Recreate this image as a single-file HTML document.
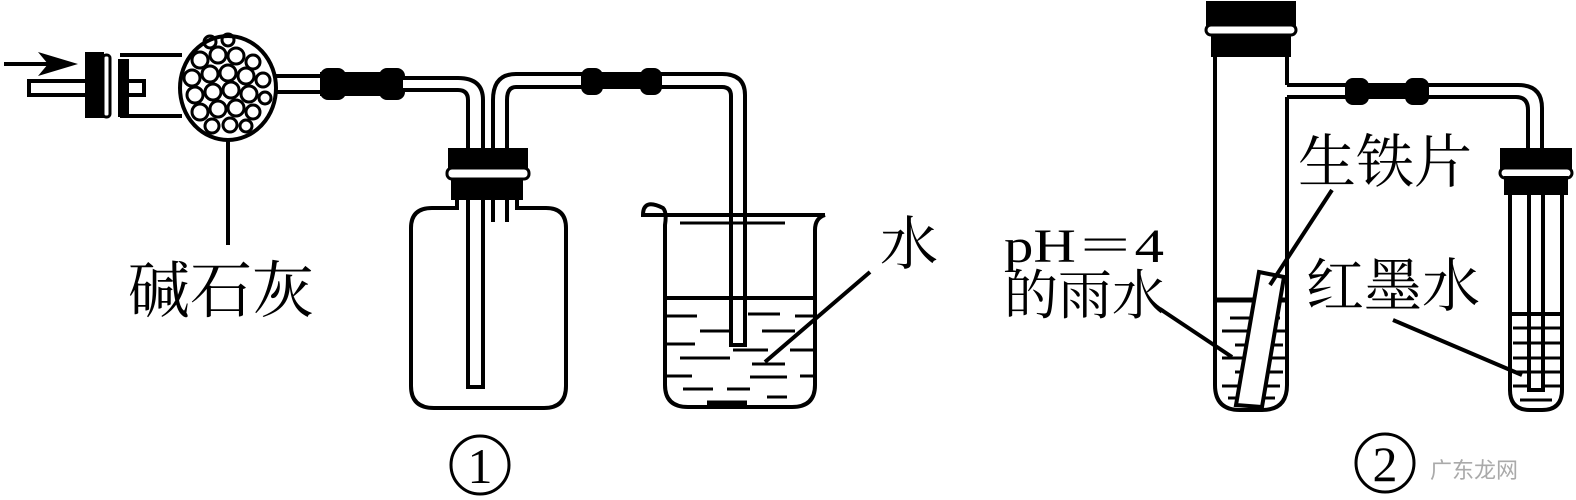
<!DOCTYPE html>
<html><head><meta charset="utf-8"><style>
html,body{margin:0;padding:0;background:#fff;}
svg{display:block}
text{font-family:"Liberation Serif","Noto Serif CJK SC",serif;fill:#000}
</style></head><body>
<svg width="1576" height="500" viewBox="0 0 1576 500" xmlns="http://www.w3.org/2000/svg">
<g stroke="#000" stroke-width="4" fill="none" stroke-linecap="butt">
<!-- arrow -->
<line x1="4" y1="64" x2="62" y2="64"/>
<polygon points="78,64 38,52 48,64 38,76" fill="#000" stroke="none"/>
<!-- stub tube -->
<rect x="29" y="81" width="58" height="14" fill="#fff"/>
<rect x="87" y="54" width="15" height="62" fill="#000"/>
<rect x="103" y="55" width="7" height="62" rx="3" fill="#fff" stroke-width="3"/>
<rect x="120" y="61" width="7" height="54" fill="#000"/>
<rect x="127" y="81" width="17" height="14" fill="#fff"/>
<!-- drying tube body -->
<path d="M120,55 L182,55 M120,116 L182,116"/>
<ellipse cx="228" cy="88" rx="48" ry="52" fill="#fff"/>
<g stroke-width="3">
<circle cx="200" cy="60" r="8"/><circle cx="218" cy="55" r="8"/><circle cx="236" cy="56" r="8"/><circle cx="253" cy="62" r="7"/>
<circle cx="192" cy="78" r="8"/><circle cx="210" cy="74" r="8"/><circle cx="228" cy="73" r="8"/><circle cx="246" cy="76" r="8"/><circle cx="263" cy="80" r="7"/>
<circle cx="195" cy="95" r="8"/><circle cx="213" cy="92" r="8"/><circle cx="231" cy="90" r="8"/><circle cx="249" cy="94" r="8"/><circle cx="265" cy="98" r="6"/>
<circle cx="200" cy="112" r="8"/><circle cx="218" cy="109" r="8"/><circle cx="236" cy="108" r="8"/><circle cx="253" cy="112" r="7"/>
<circle cx="212" cy="126" r="7"/><circle cx="230" cy="125" r="7"/><circle cx="246" cy="126" r="6"/>
<circle cx="210" cy="42" r="6"/><circle cx="228" cy="40" r="6"/>
</g>
<path d="M274,76 L322,76 M274,92 L322,92"/>
<rect x="322" y="74" width="78" height="20" fill="#000"/>
<rect x="322" y="70" width="22" height="28" rx="6" fill="#000"/>
<rect x="381" y="70" width="22" height="28" rx="6" fill="#000"/>
<line x1="228" y1="140" x2="228" y2="245"/>
<!-- tube 1 into bottle -->
<path d="M403,78 L458,78 Q483,78 483,100 L483,387 L468,387 L468,100 Q468,90 458,90 L403,90" fill="#fff"/>
<!-- tube 2 -->
<path d="M493,222 L493,100 Q493,74 516,74 L722,74 Q745,74 745,95 L745,345 L731,345 L731,96 Q731,87 722,87 L516,87 Q507,87 507,100 L507,222"/>
<rect x="583" y="76" width="77" height="10" fill="#000"/>
<rect x="583" y="70" width="18" height="23" rx="6" fill="#000"/>
<rect x="642" y="70" width="18" height="23" rx="6" fill="#000"/>
<!-- bottle -->
<path d="M457,197 L457,208 L432,208 Q411,208 411,228 L411,386 Q411,408 434,408 L544,408 Q566,408 566,386 L566,228 Q566,208 546,208 L517,208 L517,197"/>
<rect x="450" y="150" width="76" height="18" fill="#000"/>
<rect x="447" y="168" width="82" height="11" rx="5" fill="#fff" stroke-width="3"/>
<rect x="453" y="180" width="68" height="18" fill="#000"/>
<!-- beaker -->
<path d="M825,215 L643,215 Q643,198 663,208 Q667,212 665,225 L665,385 Q665,407 688,407 L792,407 Q815,407 815,385 L815,230 Q815,218 825,215"/>
<line x1="680" y1="223" x2="785" y2="223" stroke-width="3"/>
<line x1="665" y1="298" x2="815" y2="298"/>
<g stroke-width="3">
<line x1="666" y1="316" x2="697" y2="316"/><line x1="748" y1="314" x2="780" y2="314"/><line x1="795" y1="316" x2="814" y2="316"/>
<line x1="700" y1="331" x2="732" y2="331"/><line x1="762" y1="331" x2="795" y2="331"/>
<line x1="666" y1="344" x2="695" y2="344"/><line x1="733" y1="350" x2="768" y2="350"/><line x1="790" y1="350" x2="814" y2="350"/>
<line x1="680" y1="358" x2="730" y2="358"/><line x1="752" y1="364" x2="785" y2="364"/>
<line x1="666" y1="376" x2="692" y2="376"/><line x1="750" y1="377" x2="787" y2="377"/><line x1="800" y1="376" x2="814" y2="376"/>
<line x1="683" y1="389" x2="713" y2="389"/><line x1="727" y1="389" x2="750" y2="389"/>
<line x1="767" y1="397" x2="787" y2="397"/>
</g>
<line x1="707" y1="403" x2="747" y2="403" stroke-width="5"/>
<line x1="870" y1="272" x2="765" y2="362"/>
<!-- right: big tube -->
<path d="M1215,55 L1215,385 Q1215,410 1240,410 L1262,410 Q1287,410 1287,385 L1287,97 M1287,55 L1287,85"/>
<rect x="1208" y="3" width="86" height="22" fill="#000"/>
<rect x="1206" y="25" width="90" height="10" rx="5" fill="#fff" stroke-width="3"/>
<rect x="1213" y="36" width="76" height="19" fill="#000"/>
<path d="M1287,85 L1518,85 Q1542,85 1542,108 L1542,150 M1287,97 L1516,97 Q1528,97 1528,110 L1528,150"/>
<rect x="1347" y="86" width="80" height="10" fill="#000"/>
<rect x="1347" y="80" width="20" height="23" rx="6" fill="#000"/>
<rect x="1407" y="80" width="20" height="23" rx="6" fill="#000"/>
<line x1="1215" y1="300" x2="1287" y2="300" stroke-width="5"/>
<g stroke-width="3">
<line x1="1230" y1="318" x2="1280" y2="318"/><line x1="1222" y1="331" x2="1285" y2="331"/>
<line x1="1235" y1="345" x2="1283" y2="345"/><line x1="1222" y1="358" x2="1285" y2="358"/>
<line x1="1235" y1="372" x2="1283" y2="372"/><line x1="1222" y1="386" x2="1280" y2="386"/>
<line x1="1228" y1="398" x2="1275" y2="398"/>
</g>
<polygon points="1259,272 1284,277 1262,407 1236,405" fill="#fff"/>
<!-- small tube -->
<path d="M1510,193 L1510,390 Q1510,410 1530,410 L1542,410 Q1562,410 1562,390 L1562,193"/>
<rect x="1502" y="150" width="68" height="18" fill="#000"/>
<rect x="1500" y="168" width="72" height="10" rx="5" fill="#fff" stroke-width="3"/>
<rect x="1506" y="178" width="60" height="15" fill="#000"/>
<path d="M1529,193 L1529,390 L1543,390 L1543,193"/>
<line x1="1510" y1="314" x2="1562" y2="314"/>
<g stroke-width="3">
<line x1="1513" y1="328" x2="1560" y2="328"/><line x1="1513" y1="343" x2="1560" y2="343"/>
<line x1="1513" y1="358" x2="1560" y2="358"/><line x1="1513" y1="372" x2="1560" y2="372"/>
<line x1="1513" y1="386" x2="1528" y2="386"/><line x1="1544" y1="386" x2="1560" y2="386"/>
<line x1="1520" y1="400" x2="1552" y2="400"/>
</g>
<line x1="1332" y1="190" x2="1270" y2="285"/>
<line x1="1160" y1="309" x2="1232" y2="357"/>
<line x1="1393" y1="320" x2="1522" y2="375"/>
<circle cx="480" cy="465" r="29" stroke-width="3"/>
<circle cx="1385" cy="463" r="29" stroke-width="3"/>
</g>
<text x="128" y="312" font-size="62">碱石灰</text>
<text x="880" y="264" font-size="58">水</text>
<text x="1298" y="182" font-size="58">生铁片</text>
<text x="1306" y="306" font-size="58">红墨水</text>
<text x="1004" y="262" font-size="48" textLength="160" lengthAdjust="spacingAndGlyphs">pH＝4</text>
<text x="1004" y="314" font-size="54">的雨水</text>
<text x="480" y="483" font-size="50" text-anchor="middle">1</text>
<text x="1385" y="481" font-size="50" text-anchor="middle">2</text>
<text x="1430" y="478" font-size="22" style="fill:#aaa;font-family:'Liberation Sans','Noto Sans CJK SC',sans-serif">广东龙网</text>
</svg>
</body></html>
